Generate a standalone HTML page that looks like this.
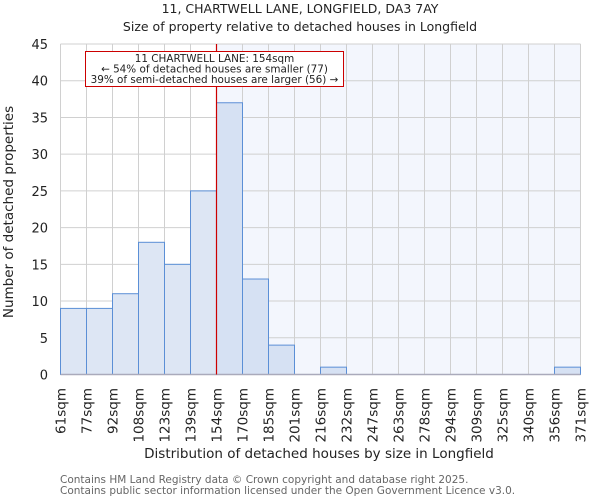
<!DOCTYPE html>
<html><head><meta charset="utf-8"><style>
body{margin:0;background:#fff;font-family:"DejaVu Sans","Liberation Sans",sans-serif}
svg text{font-family:"DejaVu Sans","Liberation Sans",sans-serif}
</style></head><body>
<svg id="chart" width="600" height="500" xmlns="http://www.w3.org/2000/svg">
<text x="300" y="13" text-anchor="middle" font-size="12.5" fill="#222">11, CHARTWELL LANE, LONGFIELD, DA3 7AY</text>
<text x="300" y="31" text-anchor="middle" font-size="12.5" fill="#222">Size of property relative to detached houses in Longfield</text>
<g id="plot"></g>
<text x="319" y="458" text-anchor="middle" font-size="13.5" fill="#222">Distribution of detached houses by size in Longfield</text>
<text transform="translate(13,212) rotate(-90)" text-anchor="middle" font-size="13.5" fill="#222">Number of detached properties</text>
<text x="60" y="483" font-size="10.5" fill="#666">Contains HM Land Registry data © Crown copyright and database right 2025.</text>
<text x="60" y="494" font-size="10.5" fill="#666">Contains public sector information licensed under the Open Government Licence v3.0.</text>
</svg>
<script>
const categories=["61sqm","77sqm","92sqm","108sqm","123sqm","139sqm","154sqm","170sqm","185sqm","201sqm","216sqm","232sqm","247sqm","263sqm","278sqm","294sqm","309sqm","325sqm","340sqm","356sqm","371sqm"];
const counts=[9,9,11,18,15,25,37,13,4,0,1,0,0,0,0,0,0,0,0,1];
const yTicks=[0,5,10,15,20,25,30,35,40,45];
const markerIndex=6;
const NS="http://www.w3.org/2000/svg";
const g=document.getElementById('plot');
const X0=60.5,BW=26,Y0=374.5,Y45=44;
const x=i=>X0+i*BW;
const y=v=>Y0-(Y0-Y45)*v/45;
const nb=counts.length;
function el(t,a){const e=document.createElementNS(NS,t);for(const k in a)e.setAttribute(k,a[k]);g.appendChild(e);return e;}
let bg=el('rect',{x:x(markerIndex),y:Y45,width:x(nb)-x(markerIndex),height:Y0-Y45,fill:'#f3f6fd'});


for(let i=0;i<=nb;i++){const l=el('line',{x1:x(i),x2:x(i),y1:Y45,y2:Y0,stroke:'#d0d0d0'});

}
yTicks.forEach(t=>{const l=el('line',{x1:X0,x2:x(nb),y1:y(t),y2:y(t),stroke:'#d0d0d0'});


const tx=el('text',{x:48,y:y(t)+5,'text-anchor':'end','font-size':'13',fill:'#222'});tx.textContent=t;

});
counts.forEach((c,i)=>{if(c<=0)return;const r=el('rect',{x:x(i),y:y(c),width:BW,height:Y0-y(c),fill:i<markerIndex?'#dde6f4':'#d6e1f3',stroke:'#5b8fd6','stroke-width':1});

});
categories.forEach((c,i)=>{const tx=el('text',{transform:`translate(${x(i)+5},388) rotate(-90)`,'text-anchor':'end','font-size':'13.5',fill:'#222'});tx.textContent=c;

});
const ax=el('line',{x1:X0,x2:x(nb),y1:Y0,y2:Y0,stroke:'#aab',"stroke-width":1.5});


const ml=el('line',{x1:x(markerIndex),x2:x(markerIndex),y1:Y45,y2:Y0,stroke:'#cc0000','stroke-width':1.2});


const box=el('rect',{x:85.5,y:51.5,width:258,height:35,fill:'#fff',stroke:'#cc0000'});


["11 CHARTWELL LANE: 154sqm","← 54% of detached houses are smaller (77)","39% of semi-detached houses are larger (56) →"].forEach((s,k)=>{const tx=el('text',{x:214.5,y:62+k*10.5,'text-anchor':'middle','font-size':'10.4',fill:'#222'});tx.textContent=s;

});
</script>
</body></html>
